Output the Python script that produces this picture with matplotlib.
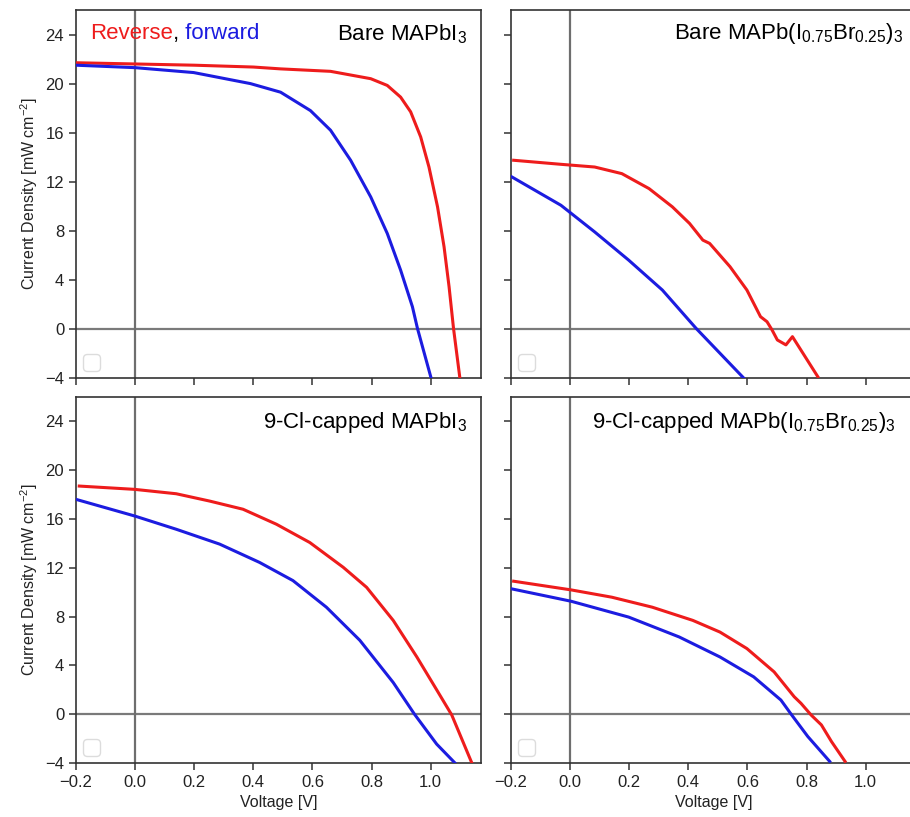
import numpy as np
import matplotlib
matplotlib.use("Agg")
import matplotlib.pyplot as plt

plt.rcParams['font.family'] = ['Liberation Sans', 'DejaVu Sans']
plt.rcParams['mathtext.fontset'] = 'custom'
plt.rcParams['mathtext.rm'] = 'Liberation Sans'
plt.rcParams['mathtext.it'] = 'Liberation Sans:italic'
plt.rcParams['mathtext.default'] = 'regular'

# voltage / current density
bare_i_rev_v = [-0.2, -0.1, 0.0, 0.2, 0.4, 0.492, 0.661, 0.797, 0.853, 0.898, 0.932, 0.966, 0.994,
                1.023, 1.045, 1.062, 1.077, 1.098]
bare_i_rev_j = [21.7, 21.65, 21.6, 21.5, 21.35, 21.2, 21.0, 20.4, 19.85, 18.9, 17.7, 15.65, 13.2,
                9.95, 6.7, 3.44, 0.05, -3.9]
bare_i_fwd_v = [-0.2, 0.0, 0.198, 0.39, 0.492, 0.593, 0.661, 0.729, 0.797, 0.853, 0.898, 0.938, 0.955, 1.0]
bare_i_fwd_j = [21.5, 21.3, 20.9, 20.0, 19.3, 17.8, 16.2, 13.75, 10.76, 7.78, 4.8, 1.81, 0.05, -3.9]

bare_br_rev_v = [-0.191, -0.031, 0.083, 0.175, 0.267, 0.346, 0.404, 0.449, 0.472, 0.541, 0.598, 0.644,
                 0.666, 0.683, 0.701, 0.73, 0.752, 0.838]
bare_br_rev_j = [13.75, 13.42, 13.2, 12.66, 11.44, 9.95, 8.6, 7.24, 6.97, 5.07, 3.17, 1.0,
                 0.59, -0.08, -0.9, -1.3, -0.63, -3.9]
bare_br_fwd_v = [-0.197, -0.031, 0.083, 0.198, 0.312, 0.426, 0.587]
bare_br_fwd_j = [12.39, 10.08, 7.91, 5.61, 3.17, 0.05, -4.0]

cap_i_rev_v = [-0.189, -0.002, 0.139, 0.252, 0.365, 0.478, 0.591, 0.704, 0.783, 0.873, 0.953, 1.02, 1.071, 1.139]
cap_i_rev_j = [18.7, 18.43, 18.07, 17.47, 16.8, 15.57, 14.07, 12.04, 10.4, 7.69, 4.69, 2.0, -0.06, -4.0]
cap_i_fwd_v = [-0.2, -0.002, 0.139, 0.286, 0.421, 0.534, 0.647, 0.76, 0.873, 0.945, 1.02, 1.082]
cap_i_fwd_j = [17.61, 16.25, 15.16, 13.94, 12.44, 10.95, 8.77, 6.06, 2.6, 0.0, -2.45, -4.0]

cap_br_rev_v = [-0.191, 0.003, 0.141, 0.278, 0.415, 0.507, 0.598, 0.69, 0.758, 0.781, 0.815, 0.85, 0.884, 0.93]
cap_br_rev_j = [10.9, 10.19, 9.59, 8.77, 7.69, 6.73, 5.38, 3.47, 1.43, 0.89, -0.06, -0.88, -2.24, -3.87]
cap_br_fwd_v = [-0.197, 0.003, 0.198, 0.369, 0.507, 0.621, 0.713, 0.747, 0.804, 0.878]
cap_br_fwd_j = [10.27, 9.26, 7.96, 6.33, 4.69, 3.06, 1.16, 0.02, -1.83, -3.87]

titles = ['Bare MAPbI$_3$',
          'Bare MAPb(I$_{0.75}$Br$_{0.25}$)$_3$',
          '9-Cl-capped MAPbI$_3$',
          '9-Cl-capped MAPb(I$_{0.75}$Br$_{0.25}$)$_3$']
panels = [
    (bare_i_rev_v, bare_i_rev_j, bare_i_fwd_v, bare_i_fwd_j),
    (bare_br_rev_v, bare_br_rev_j, bare_br_fwd_v, bare_br_fwd_j),
    (cap_i_rev_v, cap_i_rev_j, cap_i_fwd_v, cap_i_fwd_j),
    (cap_br_rev_v, cap_br_rev_j, cap_br_fwd_v, cap_br_fwd_j),
]
xticks = [-0.2, 0.0, 0.2, 0.4, 0.6, 0.8, 1.0]
yticks = [-4, 0, 4, 8, 12, 16, 20, 24]

red = '#ee1c1c'
blue = '#1c1ce0'

fig = plt.figure(figsize=(9.1, 8.17), dpi=100)
W = 405 / 910
boxes = [
    (76 / 910, 1 - 378 / 817, W, 368 / 817),
    (511 / 910, 1 - 378 / 817, W, 368 / 817),
    (76 / 910, 1 - 763 / 817, W, 366 / 817),
    (511 / 910, 1 - 763 / 817, W, 366 / 817),
]
title_x = [0.965, 0.969, 0.965, 0.949]

for i, (box, data, title) in enumerate(zip(boxes, panels, titles)):
    ax = fig.add_axes(box)
    rv, rj, fv, fj = data
    ax.axhline(0, color='#7a7a7a', lw=1.6, zorder=1)
    ax.axvline(0, color='#6e6e6e', lw=1.6, zorder=1)
    ax.plot(rv, rj, color=red, lw=2.2, zorder=3, solid_joinstyle='round')
    ax.plot(fv, fj, color=blue, lw=2.2, zorder=3, solid_joinstyle='round')
    ax.set_xlim(-0.2, 1.17)
    ax.set_ylim(-4, 26)
    ax.set_xticks(xticks)
    ax.set_yticks(yticks)
    ax.tick_params(direction='out', length=5, width=1.1, colors='#333333',
                   labelsize=12, labelcolor='#222222')
    for s in ax.spines.values():
        s.set_color('#333333')
        s.set_linewidth(1.2)
    if i % 2 == 1:
        ax.set_yticklabels([])
    else:
        ax.set_ylabel('Current Density [mW cm$^{-2}$]', fontsize=11.5, color='#222222')
    if i < 2:
        ax.set_xticklabels([])
    else:
        ax.set_xticklabels(['\u22120.2', '0.0', '0.2', '0.4', '0.6', '0.8', '1.0'])
        ax.set_xlabel('Voltage [V]', fontsize=11.5, color='#222222')
    ty = 0.935 if i < 2 else 0.929
    ax.text(title_x[i], ty, title, transform=ax.transAxes, ha='right', va='center',
            fontsize=16, color='black')
    leg = ax.legend(handles=[], loc='lower left', frameon=True, fontsize=15,
                    borderaxespad=0.35)
    leg.get_frame().set_edgecolor('#d4d4d4')
    if i == 0:
        t1 = ax.text(0.035, 0.935, 'Reverse', transform=ax.transAxes, ha='left', va='center',
                     fontsize=16, color=red)
        t2 = ax.annotate(',', xy=(1, 0), xycoords=t1, ha='left', va='bottom',
                         fontsize=16, color='black')
        ax.annotate(' forward', xy=(1, 0), xycoords=t2, ha='left', va='bottom',
                    fontsize=16, color=blue)

fig.savefig('out.png', dpi=100)
